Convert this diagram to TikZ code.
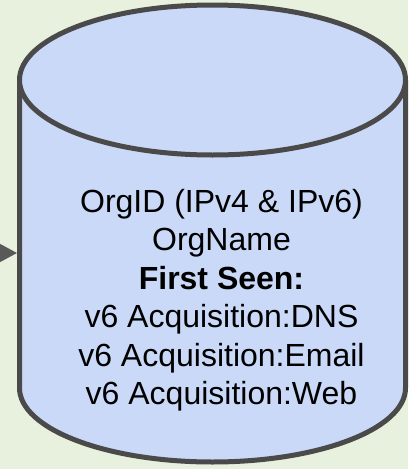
\documentclass[tikz,border=0pt]{standalone}
\usepackage{fontspec}
\setmainfont{Liberation Sans}
\usetikzlibrary{arrows.meta}
\definecolor{bgc}{HTML}{E8F1DE}
\definecolor{cylfill}{HTML}{CAD9F8}
\definecolor{cyledge}{HTML}{4A4A4A}
\definecolor{arrc}{HTML}{595959}
\tikzset{
  cylline/.style={draw=cyledge, line width=5pt, line join=round},
  feed/.style={draw=arrc, line width=2pt, -{Triangle[length=20pt,width=21pt]}, color=arrc},
  cyltext/.style={align=center, font=\fontsize{32}{38.5}\selectfont, text=black, inner sep=0pt}
}
\begin{document}
\begin{tikzpicture}[x=1pt,y=1pt]
\useasboundingbox (0,-469) rectangle (408,0);
\fill[bgc] (0,-469) rectangle (408,0);
% body
\path[fill=cylfill, cylline] (19.5,-80) -- (19.5,-388) arc[start angle=180,end angle=360,x radius=193,y radius=74] -- (405.5,-80);
% top
\path[fill=cylfill, cylline] (212.5,-80) ellipse[x radius=193, y radius=75];
\coordinate (cylleft) at (17,-253);
\coordinate (src) at (-30,-253);
\node[cyltext] (db) at (221.5,-300) {OrgID (IPv4 \& IPv6)\\OrgName\\\textbf{First Seen:}\\v6 Acquisition:DNS\\v6 Acquisition:Email\\v6 Acquisition:Web};
\draw[feed] (src) -- (cylleft);
\end{tikzpicture}
\end{document}
